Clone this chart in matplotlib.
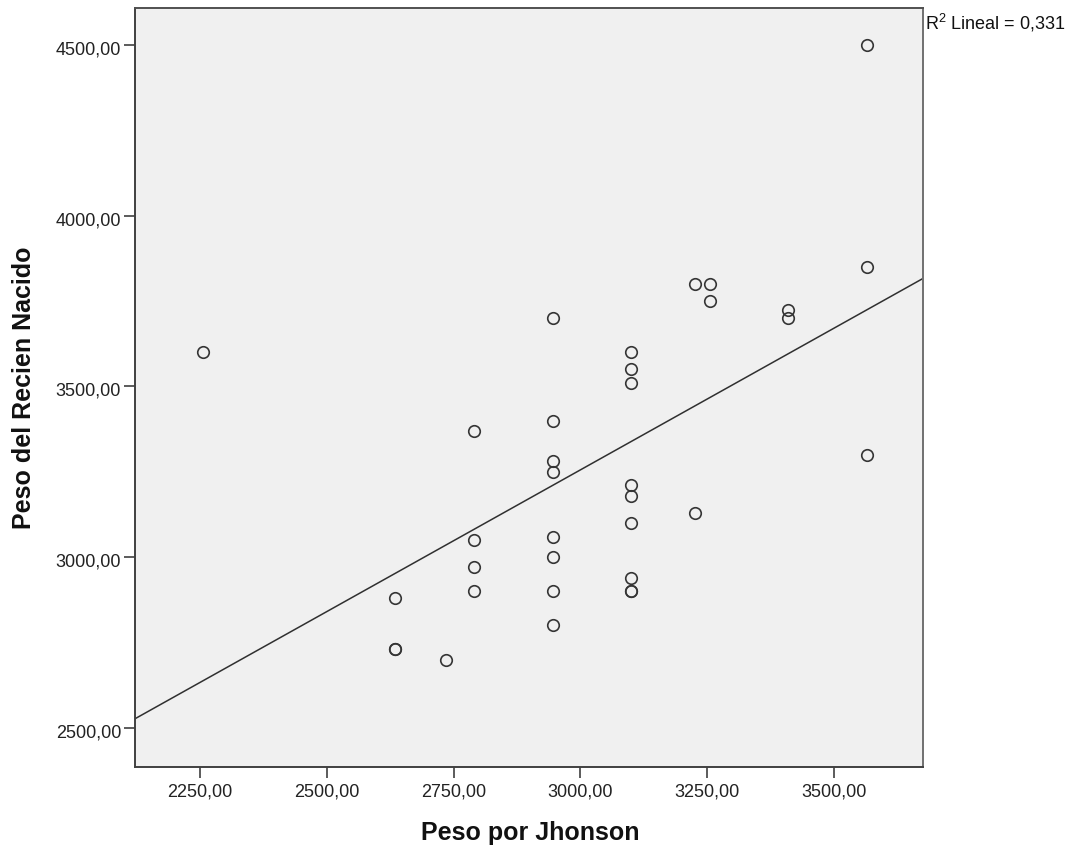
import numpy as np
import matplotlib
matplotlib.use("Agg")
import matplotlib.pyplot as plt
from matplotlib.transforms import ScaledTranslation

plt.rcParams['font.family'] = ['Liberation Sans', 'DejaVu Sans']
plt.rcParams['mathtext.fontset'] = 'custom'
plt.rcParams['mathtext.rm'] = 'Liberation Sans'

# Data
peso_jhonson = [2255,
                2635, 2635, 2635,
                2735,
                2790, 2790, 2790, 2790,
                2945, 2945, 2945, 2945, 2945, 2945, 2945, 2945,
                3100, 3100, 3100, 3100, 3100, 3100, 3100, 3100, 3100,
                3225, 3225,
                3255, 3255,
                3410, 3410,
                3565, 3565, 3565]
peso_recien_nacido = [3600,
                      2880, 2730, 2730,
                      2700,
                      3370, 3050, 2970, 2900,
                      3700, 3400, 3280, 3250, 3060, 3000, 2900, 2800,
                      3600, 3550, 3510, 3210, 3180, 3100, 2940, 2900, 2900,
                      3800, 3130,
                      3800, 3750,
                      3725, 3700,
                      4500, 3850, 3300]
x_ticks = [2250, 2500, 2750, 3000, 3250, 3500]
y_ticks = [2500, 3000, 3500, 4000, 4500]
r2_label = "0,331"

W, H = 1073, 848
fig = plt.figure(figsize=(W / 100, H / 100), dpi=100)
fig.patch.set_facecolor('white')
ax = fig.add_axes([135 / W, 1 - 766.7 / H, (923.3 - 135) / W, (766.7 - 8.3) / H])
ax.set_facecolor('#F0F0F0')

x = np.array(peso_jhonson, dtype=float)
y = np.array(peso_recien_nacido, dtype=float)

ax.set_xlim(2121.7, 3676)
ax.set_ylim(2386, 4607.5)

slope, intercept = np.polyfit(x, y, 1)
xl = np.array(ax.get_xlim())
ax.plot(xl, intercept + slope * xl, color='#303030', lw=1.1, zorder=2)

ax.plot(x, y, linestyle='none', marker='o', markersize=8.3,
        markerfacecolor='none', markeredgecolor='#353535', markeredgewidth=1.2, zorder=3)

def fmt(v):
    return f"{v:.2f}".replace('.', ',')

ax.set_xticks(x_ticks)
ax.set_xticklabels([fmt(v) for v in x_ticks])
ax.set_yticks(y_ticks)
ax.set_yticklabels([fmt(v) for v in y_ticks])
ax.tick_params(axis='both', direction='out', length=8, width=1.2, color='#404040',
               labelsize=13, labelcolor='#222222')
ax.tick_params(axis='x', pad=4)
ax.tick_params(axis='y', pad=2)
shift = ScaledTranslation(0, -3 / 100, fig.dpi_scale_trans)
for lbl in ax.get_yticklabels():
    lbl.set_transform(lbl.get_transform() + shift)

for s in ax.spines.values():
    s.set_color('#404040')
    s.set_linewidth(1.4)
ax.spines['right'].set_color('#707070')
ax.spines['top'].set_color('#505050')

fig.text(530 / W, 1 - 840 / H, "Peso por Jhonson", ha='center', va='baseline',
         fontsize=18, fontweight='bold', color='#111111')
fig.text(24 / W, 1 - 388 / H, "Peso del Recien Nacido", ha='center', va='center',
         rotation=90, fontsize=18, fontweight='bold', color='#111111')

fig.text(925 / W, 1 - 30 / H, r"R$^{2}$ Lineal = " + r2_label, ha='left', va='baseline',
         fontsize=13, color='#111111')

fig.savefig("out.png", dpi=100, facecolor='white')
